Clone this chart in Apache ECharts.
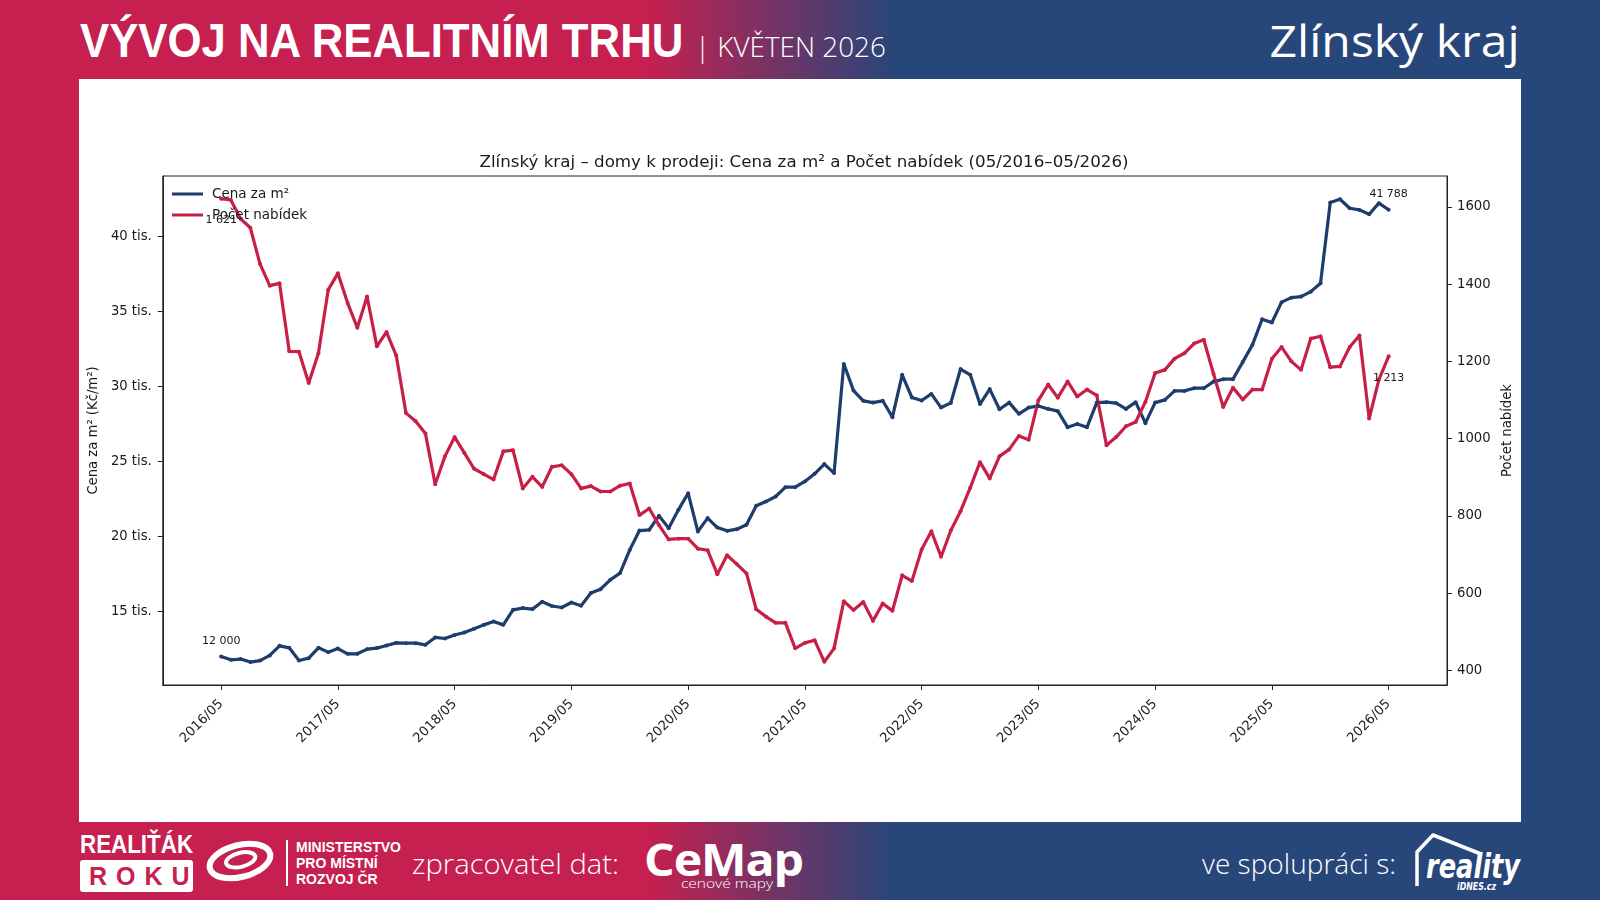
<!DOCTYPE html>
<html>
<head>
<meta charset="utf-8">
<title>Zlínský kraj – vývoj na realitním trhu</title>
<script src="https://cdn.jsdelivr.net/npm/echarts@6/dist/echarts.min.js"></script>
<style>
html, body { margin: 0; padding: 0; }
body {
  width: 1600px; height: 900px; position: relative; overflow: hidden;
  background: linear-gradient(to right, #c5204f 0%, #c5204f 40.5%, #27467a 56%, #27467a 100%);
  font-family: "Open Sans", sans-serif; color: #fff;
}
.abs { position: absolute; white-space: nowrap; line-height: 1; transform-origin: left center; }
#panel { left: 79px; top: 79px; width: 1442px; height: 743px; background: #fff; }
#chart { left: 79px; top: 79px; width: 1450px; height: 743px; }
#t1 { left: 80px; top: 13px; font: bold 48px "Liberation Sans Narrow", sans-serif; }
#t2 { left: 695px; top: 28px; font: 300 27px "Open Sans", sans-serif; }
#t3 { right: 80px; top: 10px; font: 500 44px "Open Sans", sans-serif; transform-origin: right center; }
#realitak { left: 80px; top: 829px; font: bold 26px "Liberation Sans Narrow", sans-serif; }
#roku { left: 80px; top: 860px; width: 113px; height: 32px; background: #fff; border-radius: 3px;
  color: #c5204f; font: bold 25px "Liberation Sans Narrow", sans-serif; letter-spacing: 9px;
  text-align: center; line-height: 32px; text-indent: 9px; }
#mmr { left: 205px; top: 838px; }
#sep { left: 286px; top: 840px; width: 2px; height: 46px; background: #fff; }
#mmrtxt { left: 296px; top: 839px; font: bold 14px "Liberation Sans Narrow", sans-serif; line-height: 16px; }
#zprac { left: 412px; top: 844px; font: 300 28px "Open Sans", sans-serif; }
#cemap { left: 644px; top: 828px; font: bold 45px "Open Sans", sans-serif; letter-spacing: -1px; }
#cenove { left: 681px; top: 874px; font: 300 13px "Open Sans", sans-serif; }
#spol { left: 1202px; top: 844px; font: 300 28px "Open Sans", sans-serif; }
#reality { left: 1405px; top: 828px; }
</style>
</head>
<body>
<div id="panel" class="abs"></div>
<div id="chart" class="abs"></div>

<div id="t1" class="abs" data-w="603">VÝVOJ NA REALITNÍM TRHU</div>
<div id="t2" class="abs" data-w="191">| KVĚTEN 2026</div>
<div id="t3" class="abs" data-w="250">Zlínský kraj</div>

<div id="realitak" class="abs" data-w="113">REALIŤÁK</div>
<div id="roku" class="abs">ROKU</div>
<svg id="mmr" class="abs" width="70" height="46" viewBox="0 0 70 46">
  <ellipse cx="35" cy="23" rx="31" ry="16" fill="none" stroke="#fff" stroke-width="6" transform="rotate(-14 35 23)"/>
  <ellipse cx="36" cy="22" rx="15" ry="7" fill="none" stroke="#fff" stroke-width="4" transform="rotate(-14 35 23)"/>
</svg>
<div id="sep" class="abs"></div>
<div id="mmrtxt" class="abs">MINISTERSTVO<br>PRO MÍSTNÍ<br>ROZVOJ ČR</div>
<div id="zprac" class="abs" data-w="207">zpracovatel dat:</div>
<div id="cemap" class="abs" data-w="159">CeMap</div>
<div id="cenove" class="abs" data-w="92">cenové mapy</div>
<div id="spol" class="abs" data-w="194">ve spolupráci s:</div>
<svg id="reality" class="abs" width="118" height="66" viewBox="0 0 118 66">
  <polyline points="12,58 12,24 28,7 76,26" fill="none" stroke="#fff" stroke-width="3.5" stroke-linejoin="round"/>
  <text x="21" y="50" fill="#fff" font-family="DejaVu Sans" font-style="italic" font-weight="bold"
        font-size="33" textLength="94" lengthAdjust="spacingAndGlyphs">reality</text>
  <text x="52" y="62" fill="#fff" font-family="DejaVu Sans" font-style="italic" font-weight="bold"
        font-size="11" textLength="39" lengthAdjust="spacingAndGlyphs">iDNES.cz</text>
</svg>

<script>
// měsíční řada 05/2016 – 05/2026
var tickLabels = ['2016/05', '2017/05', '2018/05', '2019/05', '2020/05', '2021/05',
  '2022/05', '2023/05', '2024/05', '2025/05', '2026/05'];

// Cena za m² (Kč/m²)
var priceVals = [
  12000, 11780, 11830, 11630, 11730, 12070, 12710, 12580, 11730, 11890, 12580, 12290,
  12530, 12180, 12180, 12490, 12560, 12730, 12910, 12890, 12890, 12780, 13270, 13200,
  13430, 13600, 13850, 14110, 14330, 14110, 15110, 15230, 15160, 15650, 15370, 15270,
  15600, 15380, 16230, 16490, 17110, 17560, 19110, 20400, 20450, 21380, 20560, 21780,
  22890, 20330, 21230, 20600, 20380, 20490, 20780, 22050, 22330, 22670, 23290, 23290,
  23670, 24180, 24830, 24230, 31510, 29730, 29050, 28930, 29050, 27960, 30780, 29270,
  29070, 29510, 28600, 28910, 31170, 30780, 28830, 29830, 28490, 28930, 28180, 28600,
  28710, 28510, 28360, 27290, 27510, 27290, 28930, 28960, 28890, 28510, 28960, 27560,
  28930, 29110, 29710, 29710, 29890, 29890, 30330, 30490, 30490, 31630, 32780, 34490,
  34270, 35630, 35930, 36000, 36330, 36890, 42270, 42490, 41890, 41780, 41490, 42230,
  41788
];

// Počet nabídek
var offerVals = [
  1621, 1618, 1569, 1546, 1452, 1396, 1402, 1226, 1225, 1144, 1221, 1385,
  1428, 1351, 1287, 1368, 1239, 1276, 1215, 1066, 1045, 1013, 882, 954,
  1004, 963, 922, 908, 894, 967, 970, 871, 901, 875, 927, 931,
  908, 871, 877, 863, 863, 878, 884, 802, 819, 776, 739, 741,
  741, 715, 711, 649, 698, 675, 651, 558, 539, 523, 523, 457,
  471, 478, 422, 457, 579, 556, 577, 528, 573, 554, 646, 631,
  713, 760, 694, 762, 812, 873, 939, 897, 954, 972, 1007, 997,
  1099, 1140, 1106, 1148, 1109, 1127, 1112, 983, 1004, 1032, 1043, 1095,
  1170, 1178, 1207, 1221, 1246, 1256, 1168, 1082, 1132, 1101, 1127, 1127,
  1207, 1237, 1200, 1178, 1259, 1265, 1185, 1187, 1237, 1267, 1052, 1153,
  1213
];

// osa x: měsíce 2015/11 – 2026/11 (okraj půl roku na každé straně)
var months = [];
for (var y = 2015, m = 11; y * 12 + m <= 2026 * 12 + 11; m++) {
  if (m > 12) { m = 1; y++; }
  months.push(y + '/' + (m < 10 ? '0' + m : m));
}
var lead = months.indexOf(tickLabels[0]);

function fmt(v) {
  return String(v).replace(/\B(?=(\d{3})+(?!\d))/g, ' ');
}

function buildData(vals, firstPos, firstDist, lastPos, lastDist) {
  var out = [];
  for (var i = 0; i < months.length; i++) out.push(null);
  for (var j = 0; j < vals.length; j++) out[lead + j] = vals[j];
  var lbl = { show: true, fontSize: 11, color: '#1a1a1a', fontFamily: 'DejaVu Sans',
    formatter: function (p) { return fmt(p.value); } };
  out[lead] = { value: vals[0], label: Object.assign({}, lbl, { position: firstPos, distance: firstDist }) };
  var k = lead + vals.length - 1;
  out[k] = { value: vals[vals.length - 1], label: Object.assign({}, lbl, { position: lastPos, distance: lastDist }) };
  return out;
}

function isTick(index, value) {
  return tickLabels.indexOf(value) >= 0;
}

var txt = '#1a1a1a';
var font = 'DejaVu Sans';
var blue = '#1f3d6c';
var red = '#c81f47';

var myChart = echarts.init(document.getElementById('chart'));

var option = {
  animation: false,
  title: {
    text: 'Zlínský kraj – domy k prodeji: Cena za m² a Počet nabídek (05/2016–05/2026)',
    left: 'center',
    top: 70,
    textStyle: { fontSize: 16.7, fontWeight: 'normal', color: txt, fontFamily: font }
  },
  legend: {
    orient: 'vertical',
    left: 93,
    top: 108,
    padding: 0,
    icon: 'rect',
    itemWidth: 31,
    itemHeight: 3,
    itemGap: 7,
    textStyle: { fontSize: 13.5, color: txt, fontFamily: font, padding: [0, 0, 0, 4] },
    data: ['Cena za m²', 'Počet nabídek']
  },
  grid: {
    left: 82,
    top: 97,
    width: 1286,
    height: 509,
    show: true,
    borderColor: '#222',
    borderWidth: 1,
    containLabel: false
  },
  xAxis: {
    type: 'category',
    data: months,
    boundaryGap: false,
    axisLine: { show: true, lineStyle: { color: '#222', width: 1 } },
    axisTick: { show: true, interval: isTick, length: 5, lineStyle: { color: '#222' } },
    axisLabel: { interval: isTick, rotate: 45, margin: 17, fontSize: 13.2, color: txt, fontFamily: font },
    splitLine: { show: false }
  },
  yAxis: [{
    type: 'value',
    position: 'left',
    min: 10100,
    max: 44040,
    splitNumber: 5,
    name: 'Cena za m² (Kč/m²)',
    nameLocation: 'middle',
    nameRotate: 90,
    nameGap: 61,
    nameTextStyle: { fontSize: 13.2, color: txt, fontFamily: font },
    axisLine: { show: true, lineStyle: { color: '#222', width: 1 } },
    axisTick: { show: true, length: 5, lineStyle: { color: '#222' } },
    axisLabel: {
      showMinLabel: false, showMaxLabel: false, margin: 11,
      fontSize: 13.2, color: txt, fontFamily: font,
      formatter: function (v) { return Math.round(v / 1000) + ' tis.'; }
    },
    splitLine: { show: false }
  }, {
    type: 'value',
    position: 'right',
    min: 362,
    max: 1680,
    splitNumber: 7,
    name: 'Počet nabídek',
    nameLocation: 'middle',
    nameRotate: 90,
    nameGap: 42,
    nameTextStyle: { fontSize: 13.2, color: txt, fontFamily: font },
    axisLine: { show: true, lineStyle: { color: '#222', width: 1 } },
    axisTick: { show: true, length: 5, lineStyle: { color: '#222' } },
    axisLabel: {
      showMinLabel: false, showMaxLabel: false, margin: 10,
      fontSize: 13.2, color: txt, fontFamily: font,
      formatter: function (v) { return String(v); }
    },
    splitLine: { show: false }
  }],
  series: [{
    name: 'Cena za m²',
    type: 'line',
    yAxisIndex: 0,
    data: buildData(priceVals, 'top', 8, 'top', 8),
    symbol: 'circle',
    symbolSize: 4,
    showSymbol: true,
    silent: true,
    lineStyle: { width: 3.2, color: blue },
    itemStyle: { color: blue },
    emphasis: { disabled: true }
  }, {
    name: 'Počet nabídek',
    type: 'line',
    yAxisIndex: 1,
    data: buildData(offerVals, 'bottom', 14, 'bottom', 14),
    symbol: 'circle',
    symbolSize: 4,
    showSymbol: true,
    silent: true,
    lineStyle: { width: 3.2, color: red },
    itemStyle: { color: red },
    emphasis: { disabled: true }
  }]
};

myChart.setOption(option);

// doladění šířky textů v hlavičce a patičce
document.querySelectorAll('[data-w]').forEach(function (el) {
  var w = el.getBoundingClientRect().width;
  if (w > 0) el.style.transform = 'scaleX(' + (+el.dataset.w / w).toFixed(3) + ')';
});
</script>
</body>
</html>
